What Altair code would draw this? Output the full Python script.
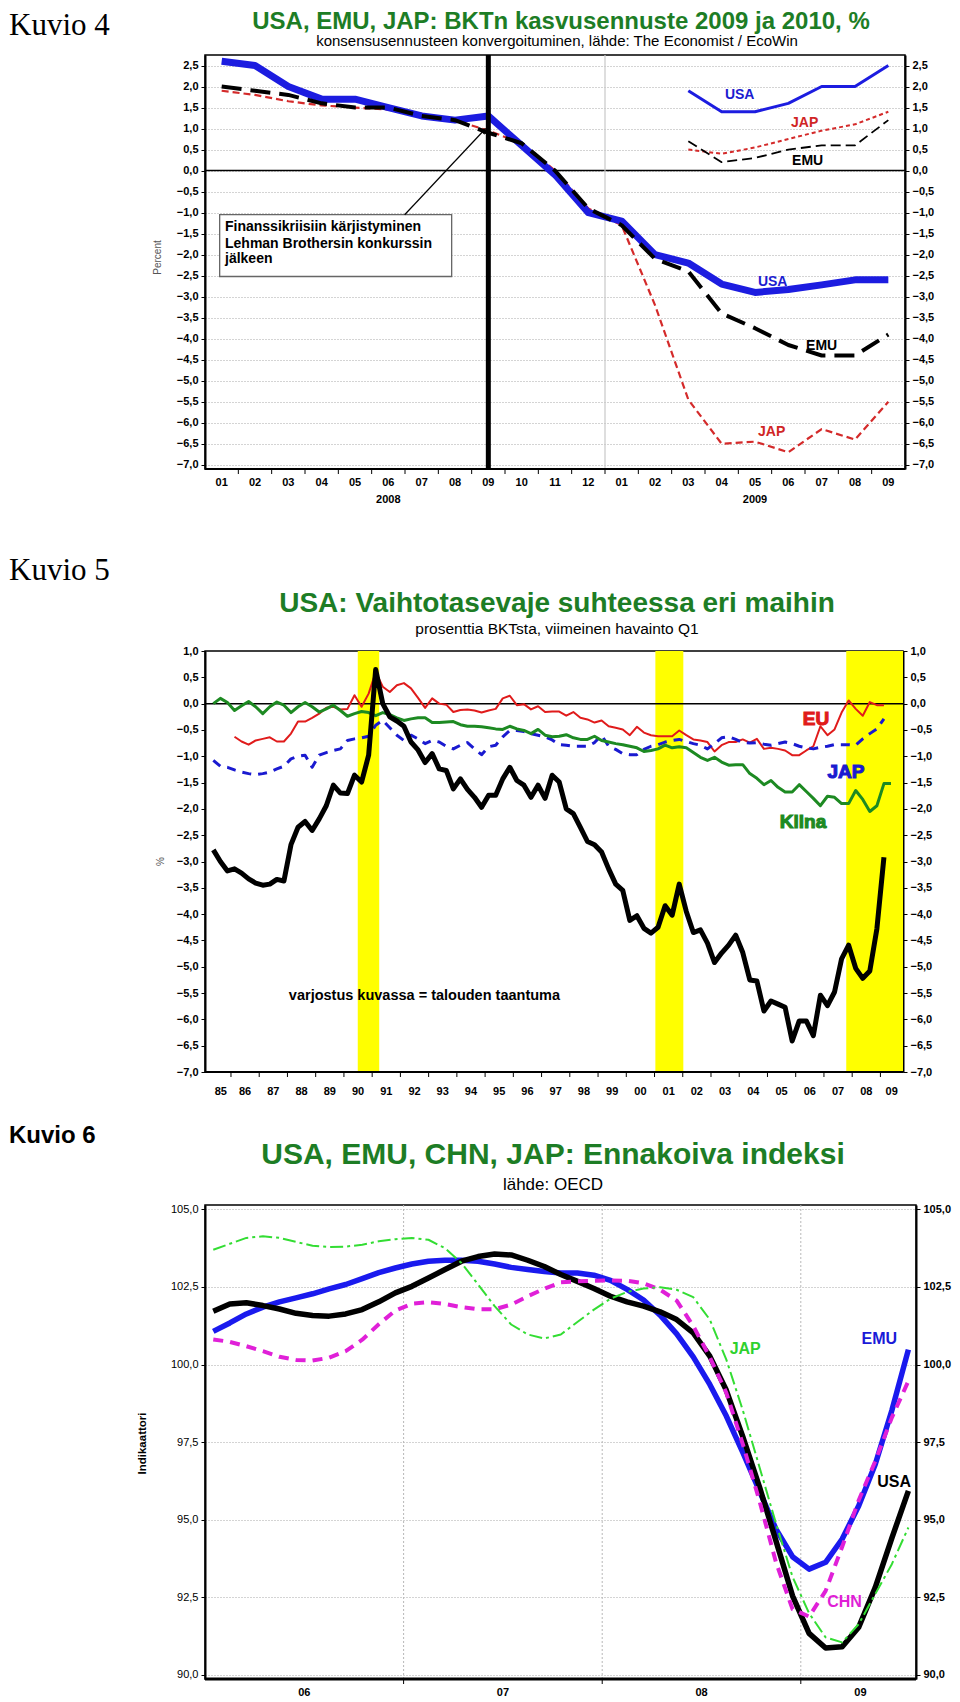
import altair as alt
import pandas as pd

FONT = "Liberation Sans, Arial, Helvetica, sans-serif"
SERIF = "Liberation Serif, Times New Roman, serif"
TITLE_GREEN = "#1d7d25"
COMMA = "replace(format(datum.value, '.1f'), '.', ',')"
LEFT = -196  # x of the "Kuvio" captions relative to the plot area

# ======================= Kuvio 4 data =======================
P1_MONTH_LABELS = ["01", "02", "03", "04", "05", "06", "07", "08", "09", "10", "11", "12",
                   "01", "02", "03", "04", "05", "06", "07", "08", "09"]
P1_YEAR_LABELS = ["2008", "2009"]
P1_YEAR_POS = [5, 16]
P1_USA_2009 = [2.6, 2.5, 2.0, 1.7, 1.7, 1.5, 1.3, 1.2, 1.3, 0.6, -0.1, -1.0, -1.2, -2.0, -2.2,
               -2.7, -2.9, -2.83, -2.72, -2.6, -2.6]
P1_EMU_2009 = [2.0, 1.9, 1.8, 1.6, 1.5, 1.5, 1.3, 1.2, 0.9, 0.65, 0.0, -0.9, -1.3, -2.1, -2.4,
               -3.4, -3.75, -4.15, -4.4, -4.4, -3.9]
P1_JAP_2009 = [1.9, 1.8, 1.65, 1.55, 1.5, 1.45, 1.35, 1.2, 0.95, 0.65, 0.0, -0.9, -1.3, -3.2,
               -5.45, -6.5, -6.45, -6.7, -6.15, -6.4, -5.5]
P1_2010_START = 14
P1_USA_2010 = [1.9, 1.4, 1.4, 1.6, 2.0, 2.0, 2.5]
P1_JAP_2010 = [0.5, 0.4, 0.55, 0.75, 0.95, 1.1, 1.4]
P1_EMU_2010 = [0.7, 0.2, 0.3, 0.5, 0.6, 0.6, 1.2]
P1_LEHMAN = 8
P1_YEAR_BREAK = 11.5
P1_LABEL_TEXT = ["USA", "JAP", "EMU", "USA", "EMU", "JAP"]
P1_LABEL_X = [15.54, 17.49, 17.58, 16.53, 18.0, 16.5]
P1_LABEL_Y = [1.8, 1.14, 0.22, -2.64, -4.18, -6.21]
P1_LABEL_COLOR = ["#1c1cd0", "#d02525", "#000000", "#1c1cd0", "#000000", "#d02525"]
P1_NOTE_LINES = ["Finanssikriisiin kärjistyminen", "Lehman Brothersin konkurssin", "jälkeen"]
P1_NOTE_Y = [-1.335, -1.75, -2.11]
P1_NOTE_X = 0.1
P1_BOX = {"x": [-0.06], "x2": [6.9], "v": [-1.05], "v2": [-2.52]}
P1_ARROW_X = [5.49, 7.87]
P1_ARROW_Y = [-1.05, 0.96]

# ======================= Kuvio 5 data (quarterly, from 1985 Q2) =======================
P2_YEAR_LABELS = ["85", "86", "87", "88", "89", "90", "91", "92", "93", "94", "95", "96", "97",
                  "98", "99", "00", "01", "02", "03", "04", "05", "06", "07", "08", "09"]
P2_LABEL_POS = [1985.64] + [y + 0.5 for y in range(1986, 2009)] + [2009.4]
P2_USA = [-2.78, -3.0, -3.18, -3.14, -3.22, -3.33, -3.41, -3.45, -3.43, -3.34,
          -3.37, -2.68, -2.35, -2.24, -2.41, -2.19, -1.94, -1.55, -1.70, -1.71,
          -1.36, -1.49, -0.98, 0.65, 0.0, -0.25, -0.33, -0.43, -0.73, -0.88,
          -1.12, -0.95, -1.24, -1.27, -1.62, -1.43, -1.63, -1.78, -1.97, -1.74,
          -1.74, -1.43, -1.21, -1.46, -1.55, -1.78, -1.55, -1.80, -1.36, -1.49,
          -2.0, -2.09, -2.35, -2.62, -2.68, -2.82, -3.14, -3.43, -3.55, -4.12,
          -4.03, -4.27, -4.36, -4.25, -3.84, -4.02, -3.43, -3.95, -4.35, -4.30,
          -4.55, -4.92, -4.74, -4.59, -4.40, -4.73, -5.25, -5.27, -5.84, -5.65,
          -5.71, -5.77, -6.41, -6.03, -6.03, -6.31, -5.54, -5.74, -5.48, -4.85,
          -4.59, -5.03, -5.22, -5.08, -4.28, -2.92]
P2_EU_START = 3
P2_EU = [-0.63, -0.72, -0.78, -0.70, -0.67, -0.64, -0.72, -0.72, -0.57, -0.34, -0.34, -0.27,
         -0.19, -0.08, -0.06, -0.11, -0.10, 0.16, -0.06, 0.19, 0.60, 0.32, 0.22, 0.35, 0.39,
         0.29, 0.11, -0.08, 0.10, 0.0, -0.02, -0.16, -0.12, -0.11, -0.13, -0.17, -0.13, -0.10,
         0.10, 0.15, -0.03, -0.01, -0.11, -0.05, -0.16, -0.15, -0.15, -0.23, -0.16, -0.27,
         -0.30, -0.36, -0.32, -0.43, -0.46, -0.49, -0.60, -0.44, -0.55, -0.60, -0.62, -0.62,
         -0.62, -0.51, -0.60, -0.68, -0.70, -0.73, -0.91, -0.79, -0.73, -0.73, -0.68, -0.74,
         -0.67, -0.86, -0.84, -0.86, -0.89, -0.98, -0.98, -0.89, -0.81, -0.43, -0.60, -0.49,
         -0.17, 0.06, -0.10, -0.23, 0.03, -0.03, -0.03]
P2_CHINA = [0.0, 0.1, 0.02, -0.13, -0.04, 0.04, -0.06, -0.19, -0.06, 0.03,
            -0.03, -0.17, -0.06, 0.02, -0.06, -0.16, -0.10, -0.03, -0.13, -0.24,
            -0.19, -0.15, -0.17, -0.23, -0.17, -0.21, -0.27, -0.32, -0.29, -0.27,
            -0.27, -0.36, -0.36, -0.35, -0.34, -0.40, -0.43, -0.43, -0.44, -0.46,
            -0.48, -0.49, -0.43, -0.48, -0.51, -0.57, -0.49, -0.60, -0.63, -0.62,
            -0.59, -0.65, -0.68, -0.68, -0.62, -0.70, -0.73, -0.76, -0.78, -0.81,
            -0.84, -0.91, -0.89, -0.86, -0.79, -0.84, -0.82, -0.84, -0.93, -1.02,
            -1.08, -1.02, -1.11, -1.17, -1.16, -1.16, -1.33, -1.42, -1.54, -1.46,
            -1.59, -1.68, -1.68, -1.54, -1.67, -1.80, -1.94, -1.76, -1.78, -1.90,
            -1.90, -1.65, -1.82, -2.05, -1.94, -1.52, -1.52]
P2_JAPAN = [-1.08, -1.19, -1.21, -1.26, -1.30, -1.33, -1.35, -1.33, -1.30, -1.24,
            -1.19, -1.05, -1.00, -0.98, -1.21, -0.98, -0.93, -0.89, -0.86, -0.70,
            -0.67, -0.65, -0.62, -0.41, -0.32, -0.46, -0.60, -0.70, -0.60, -0.67,
            -0.76, -0.70, -0.73, -0.81, -0.86, -0.79, -0.74, -0.86, -0.97, -0.82,
            -0.79, -0.63, -0.51, -0.51, -0.53, -0.57, -0.60, -0.63, -0.69, -0.78,
            -0.79, -0.81, -0.81, -0.81, -0.74, -0.60, -0.81, -0.87, -0.95, -0.97,
            -0.97, -0.87, -0.81, -0.78, -0.73, -0.70, -0.68, -0.72, -0.76, -0.79,
            -0.86, -0.76, -0.65, -0.63, -0.68, -0.74, -0.75, -0.74, -0.77, -0.79,
            -0.76, -0.73, -0.76, -0.81, -0.84, -0.86, -0.83, -0.81, -0.78, -0.78,
            -0.78, -0.79, -0.67, -0.57, -0.48, -0.29]
P2_RECESSION_START = [1990.49, 2001.03, 2007.79]
P2_RECESSION_END = [1991.25, 2002.02, 2009.8]
P2_LABEL_TEXT = ["EU", "JAP", "Kiina"]
P2_LABEL_X = [2006.72, 2007.78, 2006.26]
P2_LABEL_Y = [-0.30, -1.29, -2.24]
P2_LABEL_COLOR = ["#e01b1b", "#1a1ad0", "#1d8a22"]

# ======================= Kuvio 6 data (monthly, Jan 2006 - Jul 2009) =======================
P3_YEAR_LABELS = ["06", "07", "08", "09"]
P3_LABEL_POS = [2006.5, 2007.5, 2008.5, 2009.3]
P3_USA = [101.72, 101.95, 101.99, 101.90, 101.79, 101.65, 101.58, 101.56, 101.63, 101.77,
          102.02, 102.31, 102.52, 102.79, 103.06, 103.33, 103.48, 103.56, 103.53, 103.36,
          103.16, 102.90, 102.68, 102.45, 102.20, 102.02, 101.88, 101.70, 101.45, 101.02,
          100.27, 99.17, 97.67, 96.06, 94.32, 92.55, 91.34, 90.87, 90.91, 91.54,
          92.82, 94.41, 95.93]
P3_EMU = [101.07, 101.34, 101.63, 101.85, 102.02, 102.15, 102.28, 102.44, 102.58, 102.77,
          102.96, 103.11, 103.24, 103.33, 103.36, 103.36, 103.33, 103.24, 103.13, 103.06,
          103.0, 102.95, 102.95, 102.88, 102.71, 102.42, 102.08, 101.59, 100.99, 100.25,
          99.36, 98.34, 97.16, 95.93, 94.70, 93.81, 93.41, 93.63, 94.38, 95.45,
          96.79, 98.52, 100.48]
P3_CHN = [100.81, 100.73, 100.59, 100.43, 100.25, 100.15, 100.13, 100.22, 100.43, 100.80,
          101.30, 101.74, 101.96, 102.01, 101.95, 101.85, 101.78, 101.78, 101.93, 102.20,
          102.44, 102.65, 102.68, 102.70, 102.71, 102.70, 102.62, 102.41, 102.06, 101.24,
          100.24, 99.09, 97.43, 95.61, 93.63, 92.12, 91.88, 92.71, 94.13, 95.63,
          96.89, 98.29, 99.47]
P3_JAP = [103.70, 103.89, 104.08, 104.13, 104.08, 103.95, 103.83, 103.79, 103.80, 103.86,
          103.97, 104.04, 104.08, 104.02, 103.75, 103.27, 102.58, 101.88, 101.29, 100.97,
          100.84, 100.97, 101.37, 101.77, 102.12, 102.34, 102.45, 102.49, 102.41, 102.17,
          101.45, 100.16, 98.52, 96.70, 94.88, 93.16, 91.99, 91.21, 91.05, 91.64,
          92.61, 93.57, 94.75]
P3_LABEL_TEXT = ["JAP", "EMU", "USA", "CHN"]
P3_LABEL_X = [2008.72, 2009.395, 2009.47, 2009.22]
P3_LABEL_Y = [100.49, 100.81, 96.21, 92.36]
P3_LABEL_COLOR = ["#2ed12e", "#1a1ad8", "#000000", "#e01fd6"]


# ======================= helpers =======================
def one_row(**cols):
    return pd.DataFrame({k: [v] for k, v in cols.items()})


def ptext(text, x, y, size, color="black", font=FONT, weight="bold", align="left",
          baseline="alphabetic"):
    return alt.Chart(one_row(t=text)).mark_text(
        font=font, fontSize=size, fontWeight=weight, color=color, align=align,
        baseline=baseline).encode(text="t:N", x=alt.value(x), y=alt.value(y))


def extents(top, bottom):
    df = one_row(a=0)
    a = alt.Chart(df).mark_rule(color="white", strokeWidth=1).encode(
        x=alt.value(-150), y=alt.value(top), y2=alt.value(top + 1))
    b = alt.Chart(df).mark_rule(color="white", strokeWidth=1).encode(
        x=alt.value(-150), y=alt.value(bottom - 1), y2=alt.value(bottom))
    return [a, b]


def bottom_line(width, height, sw=2):
    return alt.Chart(one_row(a=0)).mark_rule(color="black", strokeWidth=sw).encode(
        x=alt.value(0), x2=alt.value(width), y=alt.value(height))


def val_axis(values, orient, bold=True, grid=False, **extra):
    kw = dict(values=values, orient=orient, labelExpr=COMMA, grid=grid, gridColor="#a8a8a8",
              gridDash=[1, 2], gridWidth=1, domainColor="black", domainWidth=2,
              ticks=True, tickColor="black", tickSize=4, tickWidth=1,
              labelFont=FONT, labelFontSize=11, labelFontWeight="bold" if bold else "normal",
              labelColor="black", labelPadding=3, labelFlush=False, labelOverlap=False)
    kw.update(extra)
    if "title" not in kw:
        kw["title"] = None
    return alt.Axis(**kw)


def xlabels(xenc, xs, texts, y):
    return alt.Chart(pd.DataFrame({"x": xs, "t": texts})).mark_text(
        font=FONT, fontSize=11, fontWeight="bold", baseline="middle", color="black").encode(
        x=xenc, y=alt.value(y), text="t:N")


# ======================= Kuvio 4 =======================
W1, H1 = 700, 414
SX1 = alt.Scale(domain=[-0.5, 20.5], nice=False, zero=False)
SY1 = alt.Scale(domain=[-7.1, 2.75], nice=False, zero=False)
Y1_TICKS = [round(-7 + 0.5 * i, 1) for i in range(20)]
idx1 = list(range(len(P1_MONTH_LABELS)))
idx10 = list(range(P1_2010_START, P1_2010_START + len(P1_USA_2010)))


def X1():
    return alt.X("x:Q", scale=SX1, axis=None)


def Y1(axis=None):
    return alt.Y("v:Q", scale=SY1, axis=axis)


def line1(xs, vs, **mk):
    return alt.Chart(pd.DataFrame({"x": xs, "v": vs})).mark_line(strokeJoin="round", **mk).encode(
        x=X1(), y=Y1())


p1_layers = extents(-45, H1 + 60)
p1_layers += [
    alt.Chart(one_row(v=0.0)).mark_rule(color="black", strokeWidth=1.5).encode(
        y=Y1(val_axis(Y1_TICKS, "left", grid=True, title="Percent", titleX=-43, titleY=202,
                      titleAngle=270, titleFontSize=10, titleFontWeight="normal",
                      titleColor="#555555", titleFont=FONT))),
    alt.Chart(one_row(x=P1_YEAR_BREAK)).mark_rule(color="#c8c8c8", strokeWidth=1.2).encode(x=X1()),
    bottom_line(W1, H1),
    alt.Chart(pd.DataFrame({"x": [i + 0.5 for i in range(len(P1_MONTH_LABELS) - 1)]})).mark_rule(
        color="black", strokeWidth=1).encode(x=X1(), y=alt.value(H1), y2=alt.value(H1 + 5)),
    xlabels(X1(), idx1, P1_MONTH_LABELS, H1 + 14),
    xlabels(X1(), P1_YEAR_POS, P1_YEAR_LABELS, H1 + 31),
    line1(idx1, P1_JAP_2009, color="#d42a2a", strokeWidth=2.2, strokeDash=[7, 4]),
    line1(idx1, P1_USA_2009, color="#1c1ce0", strokeWidth=7),
    line1(idx1, P1_EMU_2009, color="black", strokeWidth=4, strokeDash=[20, 9]),
    line1(idx10, P1_JAP_2010, color="#d42a2a", strokeWidth=2, strokeDash=[4, 3]),
    line1(idx10, P1_EMU_2010, color="black", strokeWidth=1.8, strokeDash=[10, 5]),
    alt.Chart(pd.DataFrame({"x": idx10, "v": P1_USA_2010})).mark_line(
        color="#1c1ce0", strokeWidth=3, strokeJoin="round").encode(
        x=X1(), y=Y1(val_axis(Y1_TICKS, "right"))),
    alt.Chart(one_row(x=P1_LEHMAN)).mark_rule(color="black", strokeWidth=5).encode(x=X1()),
    alt.Chart(pd.DataFrame(P1_BOX)).mark_rect(fill="white", stroke="#666666",
                                              strokeWidth=1.3).encode(
        x=X1(), x2="x2:Q", y=Y1(), y2="v2:Q"),
    alt.Chart(pd.DataFrame({"x": [P1_NOTE_X] * 3, "v": P1_NOTE_Y, "t": P1_NOTE_LINES})).mark_text(
        font=FONT, fontSize=14, fontWeight="bold", align="left", baseline="middle").encode(
        x=X1(), y=Y1(), text="t:N"),
    alt.Chart(pd.DataFrame({"x": P1_ARROW_X, "v": P1_ARROW_Y})).mark_line(
        color="black", strokeWidth=1.2).encode(x=X1(), y=Y1()),
    alt.Chart(pd.DataFrame({"x": P1_ARROW_X[1:], "v": P1_ARROW_Y[1:]})).mark_point(
        shape="triangle-up", angle=42, filled=True, size=45, color="black", opacity=1).encode(
        x=X1(), y=Y1()),
    alt.Chart(pd.DataFrame({"x": P1_LABEL_X, "v": P1_LABEL_Y, "t": P1_LABEL_TEXT,
                            "c": P1_LABEL_COLOR})).mark_text(
        font=FONT, fontSize=14, fontWeight="bold", baseline="middle").encode(
        x=X1(), y=Y1(), text="t:N", color=alt.Color("c:N", scale=None)),
    ptext("Kuvio 4", LEFT, -20, 31, font=SERIF, weight="normal"),
    ptext("USA, EMU, JAP: BKTn kasvusennuste 2009 ja 2010, %", 356, -26, 24, color=TITLE_GREEN,
          align="center"),
    ptext("konsensusennusteen konvergoituminen, lähde: The Economist / EcoWin", 352, -9, 15,
          weight="normal", align="center"),
]
p1 = alt.layer(*p1_layers).properties(width=W1, height=H1).resolve_axis(y="independent")

# ======================= Kuvio 5 =======================
W2, H2 = 698, 421
SX2 = alt.Scale(domain=[1985.08, 2009.8], nice=False, zero=False)
SY2 = alt.Scale(domain=[-7, 1], nice=False, zero=False)
Y2_TICKS = [round(-7 + 0.5 * i, 1) for i in range(17)]
t2 = [1985.375 + 0.25 * i for i in range(len(P2_CHINA))]


def X2():
    return alt.X("x:Q", scale=SX2, axis=None)


def Y2(axis=None):
    return alt.Y("v:Q", scale=SY2, axis=axis)


def line2(xs, vs, axis=None, **mk):
    return alt.Chart(pd.DataFrame({"x": xs, "v": vs})).mark_line(strokeJoin="round", **mk).encode(
        x=X2(), y=Y2(axis))


p2_layers = extents(-118, H2 + 35)
p2_layers += [
    alt.Chart(pd.DataFrame({"x": P2_RECESSION_START, "x2": P2_RECESSION_END})).mark_rect(
        color="#ffff00").encode(x=X2(), x2="x2:Q"),
    bottom_line(W2, H2),
    alt.Chart(pd.DataFrame({"x": list(range(1986, 2010))})).mark_rule(
        color="black", strokeWidth=1).encode(x=X2(), y=alt.value(H2), y2=alt.value(H2 + 5)),
    xlabels(X2(), P2_LABEL_POS, P2_YEAR_LABELS, H2 + 20),
    alt.Chart(one_row(v=0.0)).mark_rule(color="black", strokeWidth=1.5).encode(
        y=Y2(val_axis(Y2_TICKS, "left", title="%", titleX=-40, titleY=210, titleAngle=270,
                      titleFontSize=10, titleFontWeight="normal", titleColor="#555555",
                      titleFont=FONT))),
    line2(t2[P2_EU_START:P2_EU_START + len(P2_EU)], P2_EU, color="#e01b1b", strokeWidth=2),
    line2(t2[:len(P2_JAPAN)], P2_JAPAN, color="#1a1ad0", strokeWidth=3, strokeDash=[9, 7]),
    line2(t2, P2_CHINA, color="#1d8a22", strokeWidth=3),
    line2(t2[:len(P2_USA)], P2_USA, axis=val_axis(Y2_TICKS, "right"), color="black",
          strokeWidth=5),
    alt.Chart(pd.DataFrame({"x": P2_LABEL_X, "v": P2_LABEL_Y, "t": P2_LABEL_TEXT,
                            "c": P2_LABEL_COLOR})).mark_text(
        font=FONT, fontSize=19, fontWeight="bold", baseline="middle", strokeWidth=1.1).encode(
        x=X2(), y=Y2(), text="t:N", color=alt.Color("c:N", scale=None),
        stroke=alt.Stroke("c:N", scale=None)),
    alt.Chart(one_row(x=1988.05, v=-5.55, t="varjostus kuvassa = talouden taantuma")).mark_text(
        font=FONT, fontSize=14.5, fontWeight="bold", align="left", baseline="middle").encode(
        x=X2(), y=Y2(), text="t:N"),
    ptext("Kuvio 5", LEFT, -71, 31, font=SERIF, weight="normal"),
    ptext("USA: Vaihtotasevaje suhteessa eri maihin", 352, -39, 28, color=TITLE_GREEN,
          align="center"),
    ptext("prosenttia BKTsta, viimeinen havainto Q1", 352, -17, 15.5, weight="normal",
          align="center"),
]
p2 = alt.layer(*p2_layers).properties(width=W2, height=H2).resolve_axis(y="independent")

# ======================= Kuvio 6 =======================
W3, H3 = 711, 474
SX3 = alt.Scale(domain=[2006.0, 2009.58], nice=False, zero=False)
SY3 = alt.Scale(domain=[89.87, 105.14], nice=False, zero=False)
Y3_TICKS = [90.0 + 2.5 * i for i in range(7)]
t3 = [2006 + (m + 0.5) / 12 for m in range(len(P3_USA))]


def X3():
    return alt.X("x:Q", scale=SX3, axis=None)


def Y3(axis=None):
    return alt.Y("v:Q", scale=SY3, axis=axis)


def line3(vs, axis=None, **mk):
    return alt.Chart(pd.DataFrame({"x": t3[:len(vs)], "v": vs})).mark_line(
        strokeJoin="round", **mk).encode(x=X3(), y=Y3(axis))


p3_layers = extents(-94, H3 + 20)
p3_layers += [
    alt.Chart(pd.DataFrame({"x": [2007, 2008, 2009]})).mark_rule(
        color="#b8b8b8", strokeWidth=1, strokeDash=[2, 2]).encode(x=X3()),
    bottom_line(W3, H3, sw=3),
    alt.Chart(pd.DataFrame({"x": [2007, 2008, 2009]})).mark_rule(
        color="black", strokeWidth=1).encode(x=X3(), y=alt.value(H3), y2=alt.value(H3 + 5)),
    xlabels(X3(), P3_LABEL_POS, P3_YEAR_LABELS, H3 + 14),
    line3(P3_EMU, axis=val_axis(Y3_TICKS, "left", bold=False, grid=True, title="Indikaattori",
                                titleX=-58, titleY=238, titleAngle=270, titleFontSize=11.5,
                                titleFontWeight="bold", titleColor="black", titleFont=FONT),
          color="#1a1aee", strokeWidth=5.5),
    line3(P3_USA, axis=val_axis(Y3_TICKS, "right"), color="black", strokeWidth=5.5),
    line3(P3_CHN, color="#e020d8", strokeWidth=4, strokeDash=[10, 7]),
    line3(P3_JAP, color="#33dd33", strokeWidth=2, strokeDash=[13, 4, 3, 4]),
    alt.Chart(pd.DataFrame({"x": P3_LABEL_X, "v": P3_LABEL_Y, "t": P3_LABEL_TEXT,
                            "c": P3_LABEL_COLOR})).mark_text(
        font=FONT, fontSize=16, fontWeight="bold", baseline="middle").encode(
        x=X3(), y=Y3(), text="t:N", color=alt.Color("c:N", scale=None)),
    ptext("Kuvio 6", LEFT, -62, 24),
    ptext("USA, EMU, CHN, JAP: Ennakoiva indeksi", 348, -41, 30, color=TITLE_GREEN,
          align="center"),
    ptext("lähde: OECD", 348, -15, 17, weight="normal", align="center"),
]
p3 = alt.layer(*p3_layers).properties(width=W3, height=H3).resolve_axis(y="independent")

chart = alt.vconcat(p1, p2, p3, spacing=0).properties(padding=0).configure_view(
    stroke="black", strokeWidth=1.5)

chart.save("out.html", embed_options={"renderer": "svg", "actions": False})
